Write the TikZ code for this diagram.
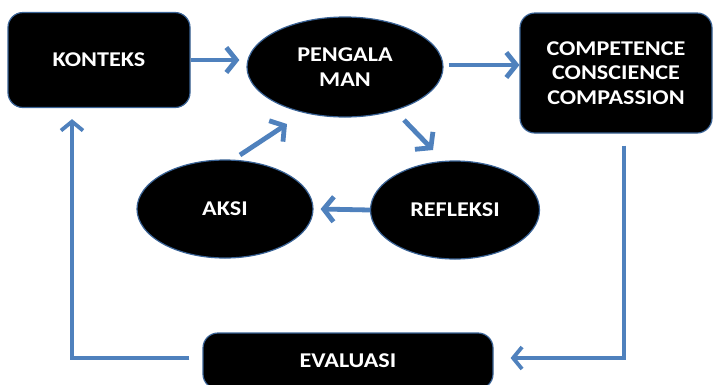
\documentclass[tikz,border=0pt]{standalone}
\usepackage{fontspec}
\setmainfont{Carlito}[BoldFont={Carlito Bold},BoldFeatures={FakeStretch=1.15}]
\usetikzlibrary{arrows.meta,shapes.geometric,calc}
\definecolor{ppblue}{HTML}{4F81BD}
\definecolor{edgeblue}{HTML}{3A6396}
\begin{document}
\begin{tikzpicture}[x=1pt,y=-1pt,
  box/.style={draw=edgeblue,line width=1.2pt,fill=black,rounded corners=15pt,text=white,font=\fontsize{21}{24.5}\selectfont\bfseries,align=center,inner sep=0pt},
  oval/.style={ellipse,draw=edgeblue,line width=1.2pt,fill=black,text=white,font=\fontsize{21}{25}\selectfont\bfseries,align=center,inner sep=0pt},
  arr/.style={draw=ppblue,line width=4.8pt,-{Straight Barb[length=10pt,width=25pt,line width=4.8pt]}},
  loop/.style={draw=ppblue,line width=3.8pt,-{Straight Barb[length=9pt,width=22pt,line width=3.8pt]}}]
\useasboundingbox (0,0) rectangle (715,384);
\fill[white] (0,0) rectangle (715,384);
\node[box,minimum width=182pt,minimum height=95pt] (kon) at (99,60) {KONTEKS};
\node[oval,minimum width=196pt,minimum height=100pt] (peng) at (345,67) {PENGALA\\MAN};
\node[box,minimum width=192pt,minimum height=120pt] (comp) at (616,73) {COMPETENCE\\CONSCIENCE\\COMPASSION};
\node[oval,minimum width=176pt,minimum height=98pt] (aksi) at (225,209) {AKSI};
\node[oval,minimum width=169pt,minimum height=98pt] (ref) at (455,210) {REFLEKSI};
\node[box,minimum width=290pt,minimum height=56pt] (eval) at (348,361) {EVALUASI};
\draw[arr] (kon.east) -- ([xshift=-7pt]kon.east -| peng.west);
\draw[arr] ([xshift=5pt,yshift=2pt]peng.east) -- ([yshift=2pt]peng.east -| comp.west);
\draw[arr] ($(peng.center)+(59,53)$) -- ($(ref.center)+(-22,-60)$);
\draw[arr] ($(aksi.center)+(15,-54)$) -- ($(peng.center)+(-58,57)$);
\draw[arr] ([yshift=0pt]ref.west) -- ([xshift=7pt]aksi.east);
\draw[loop] ([xshift=8pt,yshift=-12pt]comp.south) |- ([xshift=17pt,yshift=3pt]eval.east);
\draw[loop] ([xshift=-13pt,yshift=3pt]eval.west) -| ([xshift=-27pt,yshift=-11pt]kon.south);
\end{tikzpicture}
\end{document}
